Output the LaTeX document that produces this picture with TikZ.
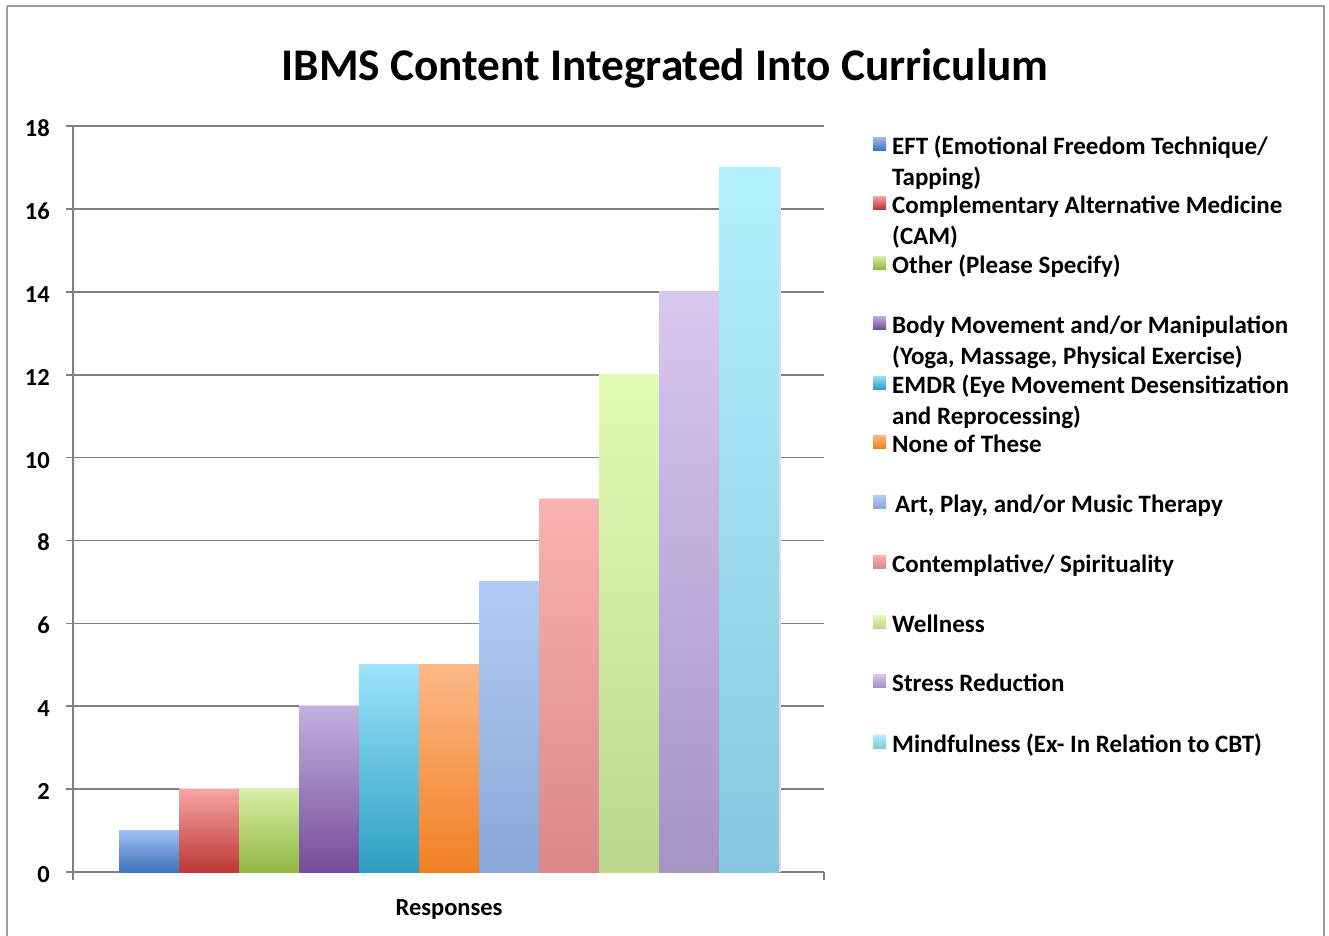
\documentclass[tikz,border=0pt]{standalone}
\usepackage{fontspec}
\setmainfont{Carlito}
\begin{document}
\begin{tikzpicture}[x=1pt,y=-1pt,
  frame/.style={draw=black!38,line width=1.8pt},
  grid/.style={draw=black!50,line width=1.6pt},
  ticklab/.style={font=\fontsize{24.5}{28}\selectfont\bfseries,anchor=base east,inner sep=0pt},
  leglab/.style={font=\fontsize{25}{29}\selectfont\bfseries,anchor=base west,inner sep=0pt},
  title/.style={font=\fontsize{45.3}{52}\selectfont\bfseries,anchor=base,inner sep=0pt}]
\useasboundingbox (0,0) rectangle (1329,935);
\fill[white] (0,0) rectangle (1329,935);
\draw[frame] (7,6) -- (1324,6) -- (1324,945) (7,6) -- (7,945);
\node[title] (title) at (665,80) {IBMS Content Integrated Into Curriculum};
% gridlines and labels
\foreach \v/\lab in {0/0,2/2,4/4,6/6,8/8,10/10,12/12,14/14,16/16,18/18}{
  \draw[grid] (66,{872-41.44*\v}) -- (824,{872-41.44*\v});
  \node[ticklab] (y\lab) at (50,{872-41.44*\v+10.5}) {\lab};
}
\draw[grid] (73,126) -- (73,880);
\draw[grid] (824,872) -- (824,880);
% bars
\definecolor{c1t}{HTML}{A0BEF2}\definecolor{c1b}{HTML}{3D72BE}
\definecolor{c2t}{HTML}{F6A4A3}\definecolor{c2b}{HTML}{BC3735}
\definecolor{c3t}{HTML}{D8F0A4}\definecolor{c3b}{HTML}{91B643}
\definecolor{c4t}{HTML}{C4B0E0}\definecolor{c4b}{HTML}{744C98}
\definecolor{c5t}{HTML}{9AE3FB}\definecolor{c5b}{HTML}{2C9FC2}
\definecolor{c6t}{HTML}{FDB887}\definecolor{c6b}{HTML}{F08022}
\definecolor{c7t}{HTML}{B2CBF6}\definecolor{c7b}{HTML}{89A8D7}
\definecolor{c8t}{HTML}{F9B3B2}\definecolor{c8b}{HTML}{DA8888}
\definecolor{c9t}{HTML}{E2FBB4}\definecolor{c9b}{HTML}{BCD78D}
\definecolor{c10t}{HTML}{D8C7EF}\definecolor{c10b}{HTML}{A793C3}
\definecolor{c11t}{HTML}{B1F1FD}\definecolor{c11b}{HTML}{88C8DF}
\foreach \i/\v in {1/1,2/2,3/2,4/4,5/5,6/5,7/7,8/9,9/12,10/14,11/17}{
  \fill[black!12] ({59+60*\i},{872-41.44*\v-1}) rectangle ({121+60*\i},872);
  \shade[top color=c\i t,bottom color=c\i b] ({59+60*\i},{872-41.44*\v}) rectangle ({119+60*\i},872);
}
\node[ticklab,anchor=base] (xlab) at (449,915) {Responses};
% legend
\foreach \n/\b/\x/\lab in {
  1/154/892/{EFT (Emotional Freedom Technique/},
  2/213/892/{Complementary Alternative Medicine},
  3/273/892/{Other (Please Specify)},
  4/333/892/{Body Movement and/or Manipulation},
  5/393/892/{EMDR (Eye Movement Desensitization},
  6/452/892/{None of These},
  7/512/895/{Art, Play, and/or Music Therapy},
  8/572/892/{Contemplative/ Spirituality},
  9/632/892/{Wellness},
  10/691/892/{Stress Reduction},
  11/752/892/{Mindfulness (Ex- In Relation to CBT)}}{
  \fill[top color=c\n t,bottom color=c\n b] (873,{\b-17}) rectangle (886,{\b-4});
  \node[leglab] (leg\n) at (\x,\b) {\lab};
}
\node[leglab] (leg1b) at (892,185) {Tapping)};
\node[leglab] (leg2b) at (892,244) {(CAM)};
\node[leglab] (leg4b) at (892,364) {(Yoga, Massage, Physical Exercise)};
\node[leglab] (leg5b) at (892,424) {and Reprocessing)};
\end{tikzpicture}
\end{document}
